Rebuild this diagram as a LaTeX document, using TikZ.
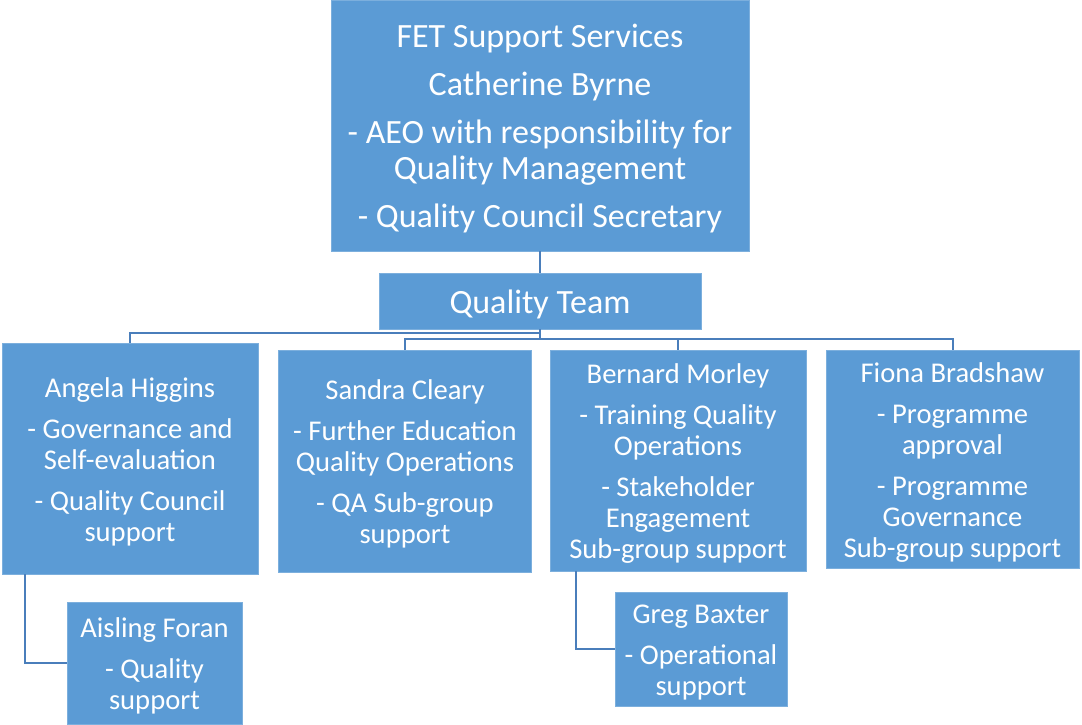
\documentclass[tikz,border=0pt]{standalone}
\usepackage{fontspec}
\setmainfont{Carlito}

\definecolor{boxblue}{HTML}{5B9BD5}
\definecolor{lineblue}{HTML}{4A7EBB}

% raises the first line of a box
\newcommand{\firstrule}[1]{\rule{0pt}{#1}}

\tikzset{
    member/.style={rectangle, fill=boxblue, draw=boxblue!80!white, line width=0.8pt,
        text=white, align=center, inner sep=0pt,
        font=\fontsize{28.6}{31}\selectfont},
    head/.style={member, font=\fontsize{34}{36}\selectfont},
    link/.style={draw=lineblue, line width=2pt},
}

\begin{document}
\begin{tikzpicture}[x=1pt, y=-1pt]
        \useasboundingbox (0,0) rectangle (1082,725);

        % Head and team
        \node[head, minimum width=418pt, minimum height=251pt] (top) at (540,125.5)
            {\firstrule{30pt}FET Support Services\\[12pt] Catherine Byrne\\[12pt] - AEO with responsibility for\\ Quality Management\\[12pt] - Quality Council Secretary};
        \node[head, minimum width=322pt, minimum height=56pt] (team) at (540,301) {\firstrule{30pt}Quality Team};

        % Team members
        \node[member, minimum width=256pt, minimum height=231pt] (angela) at (130,458.5)
            {\firstrule{26pt}Angela Higgins\\[10pt] - Governance and\\ Self-evaluation\\[10pt] - Quality Council\\ support};
        \node[member, minimum width=253pt, minimum height=222pt] (sandra) at (405,461)
            {\firstrule{26pt}Sandra Cleary\\[10pt] - Further Education\\ Quality Operations\\[10pt] - QA Sub-group\\ support};
        \node[member, minimum width=256pt, minimum height=221pt] (bernard) at (678,460.5)
            {\firstrule{26pt}Bernard Morley\\[10pt] - Training Quality\\ Operations\\[10pt] - Stakeholder\\ Engagement\\ Sub-group support};
        \node[member, minimum width=253pt, minimum height=218pt] (fiona) at (952.5,459)
            {\firstrule{26pt}Fiona Bradshaw\\[10pt] - Programme\\ approval\\[10pt] - Programme\\ Governance\\ Sub-group support};

        % Support staff
        \node[member, minimum width=175pt, minimum height=122pt] (aisling) at (154.5,663)
            {\firstrule{26pt}Aisling Foran\\[10pt] - Quality\\ support};
        \node[member, minimum width=172pt, minimum height=114pt] (greg) at (701,649)
            {\firstrule{26pt}Greg Baxter\\[10pt] - Operational\\ support};

        % Connectors
        \draw[link] (top.south) -- (team.north);
        \draw[link] (team.south) -- ++(0,4) -| (angela.north);
        \draw[link] (team.south) -- ++(0,10) -| (sandra.north);
        \draw[link] (team.south) -- ++(0,10) -| (bernard.north);
        \draw[link] (team.south) -- ++(0,10) -| (fiona.north);
        \draw[link] ([xshift=-105pt]angela.south) |- (aisling.west);
        \draw[link] ([xshift=-102pt]bernard.south) |- (greg.west);
    \end{tikzpicture}
\end{document}
